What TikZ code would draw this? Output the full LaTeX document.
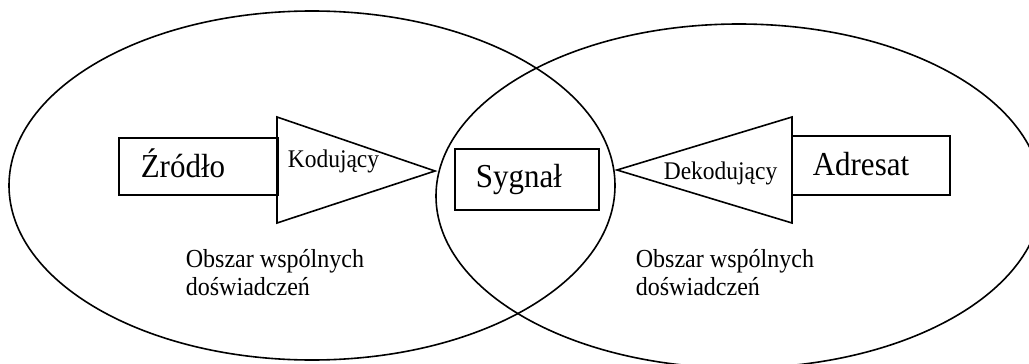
\documentclass[tikz,border=0pt]{standalone}
\usepackage{fontspec}
\setmainfont{Liberation Serif}[FakeStretch=0.925]
\begin{document}
\begin{tikzpicture}[x=1pt,y=-1pt,line width=1.6pt,line join=miter,
  blk/.style={draw,line width=1.6pt,inner sep=0pt,anchor=north west},
  lbl/.style={anchor=base west,inner sep=0pt},
  big/.style={font=\fontsize{33.5}{38}\selectfont},
  small/.style={font=\fontsize{25.4}{30}\selectfont},
  area/.style={anchor=base west,inner sep=0pt,align=left,
    font=\fontsize{26}{28}\selectfont}]
\useasboundingbox (0,0) rectangle (1029,364);

% two overlapping fields of experience
\draw (312,185.5) ellipse [x radius=303, y radius=174.5];
\draw (739,196) ellipse [x radius=303, y radius=172];

% sender side
\node[blk,minimum width=159,minimum height=57] (src) at (118,137) {};
\node[lbl,big] (srcTxt) at (140,177) {Źródło};
\coordinate (encTop) at (277,117);
\coordinate (encTip) at (435,171);
\coordinate (encBot) at (277,223);
\draw (encTop) -- (encTip) -- (encBot) -- cycle;
\node[lbl,small] (encTxt) at (287,167) {Kodujący};

% signal
\node[blk,minimum width=144,minimum height=61] (sig) at (454,148) {};
\node[lbl,big] (sigTxt) at (475,187) {Sygnał};

% receiver side
\coordinate (decTop) at (792,117);
\coordinate (decTip) at (617,170);
\coordinate (decBot) at (792,223);
\draw (decTop) -- (decTip) -- (decBot) -- cycle;
\node[lbl,small] (decTxt) at (663,179) {Dekodujący};
\node[blk,minimum width=158,minimum height=59] (dst) at (791,135) {};
\node[lbl,big] (dstTxt) at (812,175) {Adresat};

% area captions (anchored on the baseline of the last line)
\node[area] (areaL) at (185,295) {Obszar wspólnych\\doświadczeń};
\node[area] (areaR) at (635,295) {Obszar wspólnych\\doświadczeń};
\end{tikzpicture}
\end{document}
